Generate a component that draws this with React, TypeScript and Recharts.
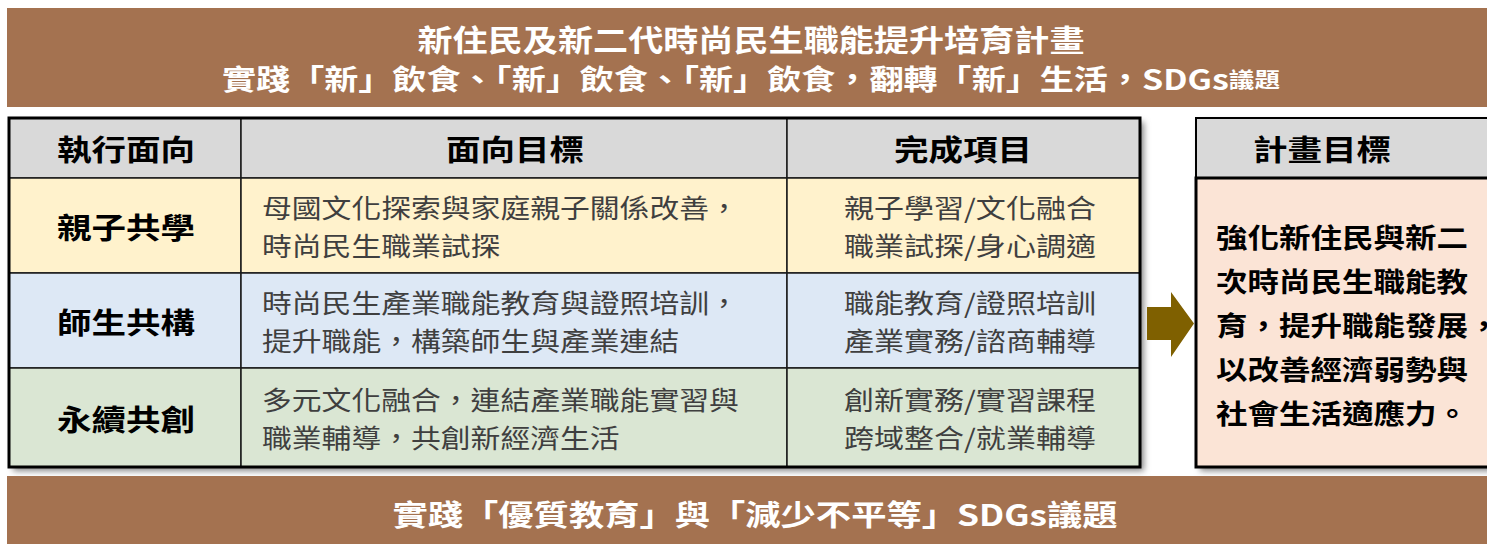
import { ComposedChart, Customized, ReferenceArea, XAxis, YAxis } from "recharts";

const W = 1487;
const H = 544;
const FONT = '"Noto Sans CJK TC", "Noto Sans CJK SC", sans-serif';

// texts of the diagram
const titleMain = "新住民及新二代時尚民生職能提升培育計畫";
const titleSub = "實踐「新」飲食、「新」飲食、「新」飲食，翻轉「新」生活，SDGs";
const titleSubSmall = "議題";
const footerText = "實踐「優質教育」與「減少不平等」SDGs議題";
const headers = ["執行面向", "面向目標", "完成項目"];
const aspects = ["親子共學", "師生共構", "永續共創"];
const goals = [
  ["母國文化探索與家庭親子關係改善，", "時尚民生職業試探"],
  ["時尚民生產業職能教育與證照培訓，", "提升職能，構築師生與產業連結"],
  ["多元文化融合，連結產業職能實習與", "職業輔導，共創新經濟生活"],
];
const outcomes = [
  ["親子學習/文化融合", "職業試探/身心調適"],
  ["職能教育/證照培訓", "產業實務/諮商輔導"],
  ["創新實務/實習課程", "跨域整合/就業輔導"],
];
const planTitle = "計畫目標";
const planText = ["強化新住民與新二", "次時尚民生職能教", "育，提升職能發展，", "以改善經濟弱勢與", "社會生活適應力。"];

// layout
const colX = [9, 241, 787, 1140];
const rowY = [118, 178, 273, 368, 467];
const planX = [1196, W + 20];
const headerCx = [126, 515, 963];
const rowFills = ["#FFF2CC", "#DDE8F5", "#DAE6D3"];
const BROWN = "#A47250";
const LINE_GAP = 19;

const textWidth = (s: string, adv: number) =>
  Array.from(s).reduce((acc, ch) => acc + (ch.charCodeAt(0) < 128 ? adv * 0.45 : adv), 0);

type TProps = {
  x: number;
  y: number;
  s: React.ReactNode;
  size: number;
  len?: number;
  anchor?: "start" | "middle" | "end";
  weight?: number;
  fill?: string;
};

function Txt({ x, y, s, size, len, anchor = "start", weight = 400, fill = "#000" }: TProps) {
  return (
    <text
      x={x}
      y={y}
      fontSize={size}
      fontWeight={weight}
      fill={fill}
      textAnchor={anchor}
      dominantBaseline="central"
      fontFamily={FONT}
      textLength={len}
      lengthAdjust={len ? "spacingAndGlyphs" : undefined}
    >
      {s}
    </text>
  );
}

function Shadows() {
  return (
    <g>
      <defs>
        <filter id="blur" x="-10%" y="-10%" width="120%" height="130%">
          <feGaussianBlur stdDeviation="3" />
        </filter>
      </defs>
      <rect x={colX[0] + 4} y={rowY[0] + 4} width={colX[3] - colX[0]} height={rowY[4] - rowY[0]} fill="#888" filter="url(#blur)" />
      <rect x={planX[0] + 4} y={rowY[0] + 4} width={W} height={rowY[4] - rowY[0]} fill="#888" filter="url(#blur)" />
      <polygon points="1147,307 1171,307 1171,292 1194,323.5 1171,357 1171,340 1147,340" fill="#7F6000" />
    </g>
  );
}

const rowCy = (r: number) => (rowY[r + 1] + rowY[r + 2]) / 2;

function cellLabel(r: number, c: number) {
  const cy = rowCy(r);
  if (c === 0) {
    return () => <Txt x={126} y={cy} s={aspects[r]} size={29} weight={700} anchor="middle" len={textWidth(aspects[r], 34.5)} />;
  }
  if (c === 1) {
    return () => (
      <g>
        {goals[r].map((l, j) => (
          <Txt key={l} x={262} y={cy + (j === 0 ? -LINE_GAP : LINE_GAP)} s={l} size={26} fill="#3F3F3F" len={textWidth(l, 29.8)} />
        ))}
      </g>
    );
  }
  return () => (
    <g>
      {outcomes[r].map((l, j) => (
        <Txt key={l} x={970} y={cy + (j === 0 ? -LINE_GAP : LINE_GAP)} s={l} size={26} fill="#3F3F3F" anchor="middle" len={textWidth(l, 29.8)} />
      ))}
    </g>
  );
}

const titleLabel = () => (
  <g>
    <Txt x={751} y={38} s={titleMain} size={30} weight={700} fill="#fff" anchor="middle" len={667} />
    <Txt
      x={751}
      y={78}
      s={
        <>
          {titleSub}
          <tspan fontSize={21}>{titleSubSmall}</tspan>
        </>
      }
      size={28}
      weight={700}
      fill="#fff"
      anchor="middle"
      len={1058}
    />
  </g>
);

const footerLabel = () => <Txt x={755} y={513} s={footerText} size={29} weight={700} fill="#fff" anchor="middle" len={725} />;

const planTitleLabel = () => <Txt x={1322} y={148} s={planTitle} size={29} weight={700} anchor="middle" len={textWidth(planTitle, 34.5)} />;

const planTextLabel = () => (
  <g>
    {planText.map((l, i) => (
      <Txt key={l} x={1216} y={236 + i * 44} s={l} size={27} weight={700} len={textWidth(l, 31.5)} />
    ))}
  </g>
);

export default function App() {
  return (
    <div style={{ position: "absolute", left: 0, top: 0, background: "#fff" }}>
      <ComposedChart width={W} height={H} data={[]} margin={{ top: 0, right: 0, bottom: 0, left: 0 }}>
        <XAxis type="number" dataKey="x" domain={[0, W]} hide allowDataOverflow />
        <YAxis type="number" domain={[0, H]} reversed hide allowDataOverflow />
        <Customized component={Shadows} />

        <ReferenceArea x1={7} x2={W} y1={8} y2={107} fill={BROWN} fillOpacity={1} stroke="none" ifOverflow="visible" label={titleLabel} />
        <ReferenceArea x1={7} x2={W} y1={476} y2={H} fill={BROWN} fillOpacity={1} stroke="none" ifOverflow="visible" label={footerLabel} />

        {headers.map((h, c) => (
          <ReferenceArea
            key={h}
            x1={colX[c]}
            x2={colX[c + 1]}
            y1={rowY[0]}
            y2={rowY[1]}
            fill="#D9D9D9"
            fillOpacity={1}
            stroke="#1a1a1a"
            strokeWidth={1.5}
            ifOverflow="visible"
            label={() => <Txt x={headerCx[c]} y={148} s={h} size={29} weight={700} anchor="middle" len={textWidth(h, 34.5)} />}
          />
        ))}
        {aspects.map((a, r) =>
          [0, 1, 2].map((c) => (
            <ReferenceArea
              key={`${a}-${c}`}
              x1={colX[c]}
              x2={colX[c + 1]}
              y1={rowY[r + 1]}
              y2={rowY[r + 2]}
              fill={rowFills[r]}
              fillOpacity={1}
              stroke="#1a1a1a"
              strokeWidth={1.5}
              ifOverflow="visible"
              label={cellLabel(r, c)}
            />
          ))
        )}
        <ReferenceArea x1={colX[0]} x2={colX[3]} y1={rowY[0]} y2={rowY[4]} fill="none" fillOpacity={0} stroke="#000" strokeWidth={3} ifOverflow="visible" />

        <ReferenceArea x1={planX[0]} x2={planX[1]} y1={rowY[0]} y2={rowY[1]} fill="#D9D9D9" fillOpacity={1} stroke="#000" strokeWidth={2} ifOverflow="visible" label={planTitleLabel} />
        <ReferenceArea x1={planX[0]} x2={planX[1]} y1={rowY[1]} y2={rowY[4]} fill="#FBE4D6" fillOpacity={1} stroke="#000" strokeWidth={3} ifOverflow="visible" label={planTextLabel} />
      </ComposedChart>
    </div>
  );
}
